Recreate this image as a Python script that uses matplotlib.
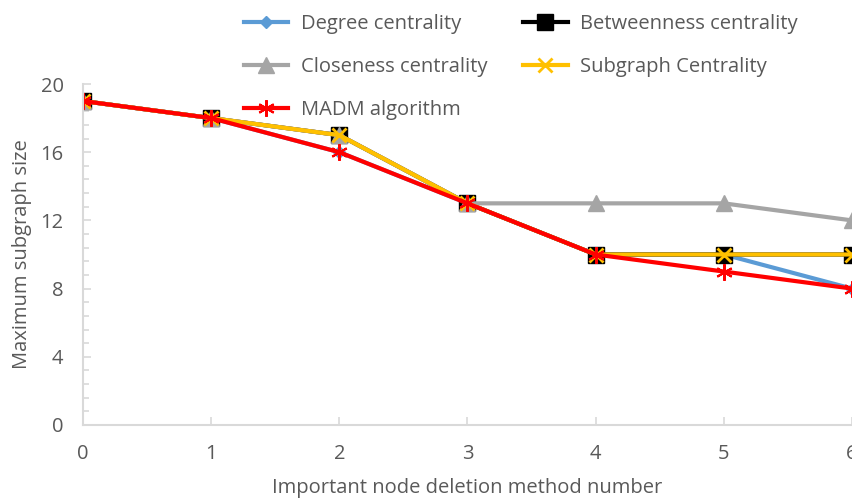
import matplotlib.pyplot as plt
from matplotlib.ticker import MultipleLocator

plt.rcParams['font.family'] = ['Open Sans', 'DejaVu Sans']

# Data
x = [0, 1, 2, 3, 4, 5, 6]
degree = [19, 18, 16, 13, 10, 10, 8]
betweenness = [19, 18, 17, 13, 10, 10, 10]
closeness = [19, 18, 17, 13, 13, 13, 12]
subgraph = [19, 18, 17, 13, 10, 10, 10]
madm = [19, 18, 16, 13, 10, 9, 8]

fs = 14.5
fig = plt.figure(figsize=(8.53, 4.99), dpi=100)
ax = fig.add_axes([83 / 853, 1 - 425 / 499, 769 / 853, 341 / 499])

lw = 3
l1, = ax.plot(x, degree, color='#5b9bd5', lw=lw, marker='D', ms=6, label='Degree centrality')
l2, = ax.plot(x, betweenness, color='#000000', lw=lw, marker='s', ms=11, label='Betweenness centrality')
l3, = ax.plot(x, closeness, color='#a5a5a5', lw=lw, marker='^', ms=11, label='Closeness centrality')
l4, = ax.plot(x, subgraph, color='#ffc000', lw=lw, marker='x', ms=10, mew=2, label='Subgraph Centrality')
l5, = ax.plot(x, madm, color='#ff0000', lw=lw, marker=(6, 2, 0), ms=12, mew=1.5, label='MADM algorithm')

ax.set_xlim(0, 6)
ax.set_ylim(0, 20)
ax.yaxis.set_major_locator(MultipleLocator(4))
ax.yaxis.set_minor_locator(MultipleLocator(0.8))
ax.xaxis.set_major_locator(MultipleLocator(1))

for s in ['top', 'right']:
    ax.spines[s].set_visible(False)
for s in ['left', 'bottom']:
    ax.spines[s].set_color('#d9d9d9')
    ax.spines[s].set_linewidth(1.5)

ax.tick_params(axis='both', which='both', direction='in', colors='#d9d9d9',
               labelcolor='#595959', labelsize=fs, width=1.2)
ax.tick_params(axis='y', which='major', length=6, pad=14)
ax.tick_params(axis='y', which='minor', length=4)
ax.tick_params(axis='x', which='major', length=6, pad=14)

ax.set_xlabel('Important node deletion method number', fontsize=fs, color='#595959', labelpad=10)
ax.set_ylabel('Maximum subgraph size', fontsize=fs, color='#595959', labelpad=6)

# legend is filled column by column, so order the handles to read row by row
handles = [l1, l3, l5, l2, l4]
fig.legend(handles=handles, labels=[h.get_label() for h in handles],
           loc='upper left', bbox_to_anchor=(226 / 853, 1.008), ncol=2,
           frameon=False, fontsize=fs, handlelength=2.2, handletextpad=0.6,
           columnspacing=1.8, labelspacing=1.15, labelcolor='#595959')

fig.savefig('out.png', dpi=100)
